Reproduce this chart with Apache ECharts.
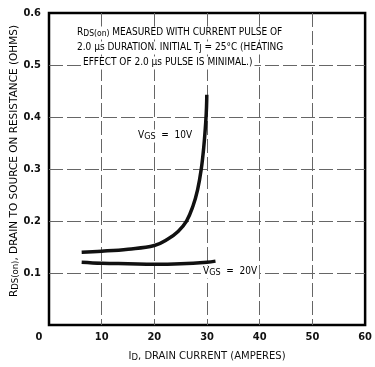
<!DOCTYPE html>
<html>
<head>
<meta charset="utf-8">
<style>
html, body { margin: 0; padding: 0; background: #fff; }
#chart { width: 375px; height: 367px; }
</style>
<script src="https://cdn.jsdelivr.net/npm/echarts@6/dist/echarts.min.js"></script>
</head>
<body>
<div id="chart"></div>
<script>
(function () {

    var xTicks = [0, 10, 20, 30, 40, 50, 60];
    var yTicks = [0, 0.1, 0.2, 0.3, 0.4, 0.5, 0.6];

    // VGS = 10V
    var current10 = [6.2, 10, 15, 20, 22.5, 24.5, 26.1, 27.3, 28.2, 28.9, 29.4, 29.75, 29.9, 29.95];
    var rds10 = [0.140, 0.142, 0.146, 0.153, 0.165, 0.180, 0.200, 0.228, 0.260, 0.300, 0.345, 0.390, 0.420, 0.443];

    // VGS = 20V
    var current20 = [6.2, 10, 15, 20, 25, 30, 31.6];
    var rds20 = [0.121, 0.119, 0.118, 0.117, 0.118, 0.121, 0.123];

    var font = "'DejaVu Sans Condensed', 'DejaVu Sans', sans-serif";
    var wide = "'DejaVu Sans', sans-serif";
    var narrow = "'Liberation Sans Narrow', 'DejaVu Sans Condensed', sans-serif";

    function pairs(xs, ys) {
        return xs.map(function (x, i) { return [x, ys[i]]; });
    }

    // subscript helpers for rich text
    function richSet(size, family, subSize, drop) {
        return {
            n: { fontSize: size, fontFamily: family, color: '#111', lineHeight: size + 1, verticalAlign: 'top' },
            s: { fontSize: subSize, fontFamily: family, color: '#111', lineHeight: subSize + 1, padding: [drop, 0, 0, 0], verticalAlign: 'bottom' }
        };
    }

    var gridLine = { color: '#666', width: 1, type: [14, 4] };

    function note(x, y, text, size, sub, drop) {
        return {
            type: 'text', x: x, y: y, z: 10,
            style: {
                text: text,
                rich: richSet(size, font, sub, drop),
                verticalAlign: 'middle',
                backgroundColor: '#fff',
                padding: [1, 2]
            }
        };
    }

    var option = {
        backgroundColor: '#fff',
        animation: false,
        grid: {
            left: 49,
            right: 7,
            top: 13,
            bottom: 39,
            show: true,
            borderColor: '#000',
            borderWidth: 2.5
        },
        xAxis: {
            type: 'value',
            min: xTicks[0],
            max: xTicks[xTicks.length - 1],
            interval: xTicks[1] - xTicks[0],
            axisLine: { show: false },
            axisTick: { show: false },
            splitLine: { show: true, showMinLine: false, showMaxLine: false, lineStyle: gridLine },
            axisLabel: {
                margin: 7,
                fontSize: 11,
                fontWeight: 'bold',
                fontFamily: narrow,
                color: '#111',
                formatter: function (v) { return v === 0 ? '{z|0}' : String(v); },
                rich: { z: { fontSize: 11, fontWeight: 'bold', fontFamily: narrow, color: '#111', padding: [0, 20, 0, 0] } }
            },
            name: '{n|I}{s|D}{n|, DRAIN CURRENT (AMPERES)}',
            nameLocation: 'middle',
            nameGap: 21,
            nameTextStyle: { rich: richSet(10, wide, 8.5, 5) }
        },
        yAxis: {
            type: 'value',
            min: yTicks[0],
            max: yTicks[yTicks.length - 1],
            interval: 0.1,
            axisLine: { show: false },
            axisTick: { show: false },
            splitLine: { show: true, showMinLine: false, showMaxLine: false, lineStyle: gridLine },
            axisLabel: {
                margin: 8,
                fontSize: 11,
                fontWeight: 'bold',
                fontFamily: narrow,
                color: '#111',
                formatter: function (v) { return v === 0 ? '' : v.toFixed(1); }
            }
        },
        series: [
            {
                name: 'VGS = 10V',
                type: 'line',
                data: pairs(current10, rds10),
                smooth: 0.4,
                showSymbol: false,
                lineStyle: { color: '#111', width: 3.5 }
            },
            {
                name: 'VGS = 20V',
                type: 'line',
                data: pairs(current20, rds20),
                smooth: 0.4,
                showSymbol: false,
                lineStyle: { color: '#111', width: 3.5 }
            }
        ],
        graphic: [
            {
                // y axis title, reads bottom to top
                type: 'text', x: 15, y: 161, rotation: Math.PI / 2, z: 10,
                style: {
                    text: '{n|R}{s|DS(on)}{n|, DRAIN TO SOURCE ON RESISTANCE (OHMS)}',
                    rich: richSet(10.5, wide, 8.5, 5),
                    align: 'center',
                    verticalAlign: 'middle'
                }
            },
            note(75, 33, '{n|R}{s|DS(on)}{n| MEASURED WITH CURRENT PULSE OF}', 10, 8.5, 4),
            note(75, 48, '{n|2.0 \u03bcs DURATION. INITIAL T}{s|J}{n| = 25\u00b0C (HEATING}', 10, 8.5, 4),
            note(81, 63, '{n|EFFECT OF 2.0 \u03bcs PULSE IS MINIMAL.)}', 10, 8.5, 4),
            note(136, 136, '{n|V}{s|GS}{n|  =  10V}', 10, 9, 5),
            note(201, 272, '{n|V}{s|GS}{n|  =  20V}', 10, 9, 5)
        ]
    };

    var myChart = echarts.init(document.getElementById('chart'));
    myChart.setOption(option);

})();
</script>
</body>
</html>
